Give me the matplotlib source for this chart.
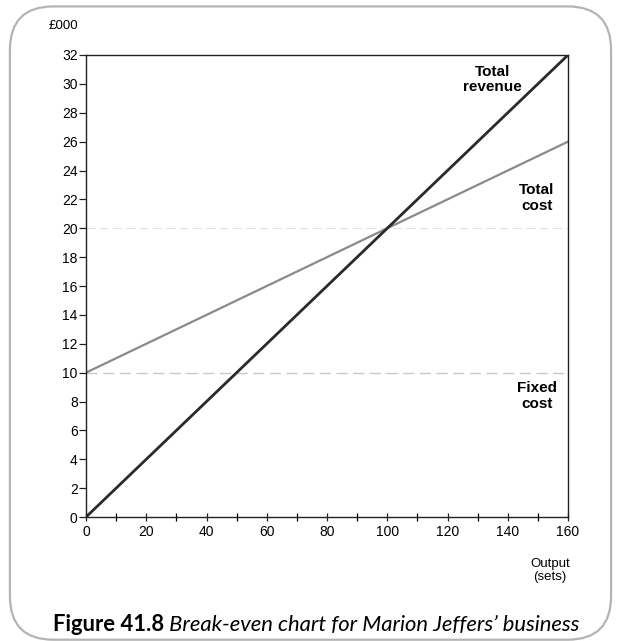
import matplotlib
matplotlib.use("Agg")
import matplotlib.pyplot as plt
from matplotlib.patches import FancyBboxPatch

output = [0, 160]
total_revenue = [0, 32]
total_cost = [10, 26]
fixed_cost = [10, 10]
x_ticks = [0, 20, 40, 60, 80, 100, 120, 140, 160]
y_ticks = list(range(0, 33, 2))

plt.rcParams['font.family'] = ['Liberation Sans', 'DejaVu Sans']

fig = plt.figure(figsize=(6.21, 6.41), dpi=100)
frame = FancyBboxPatch((0.016, 0.002), 0.968, 0.988, boxstyle="round,pad=0,rounding_size=0.07",
                       transform=fig.transFigure, facecolor='white', edgecolor='#b4b4b4',
                       linewidth=1.6, mutation_aspect=621/641, zorder=-5)
fig.patches.append(frame)

ax = fig.add_axes([0.1385, 0.1934, 0.7762, 0.7208])
ax.set_zorder(3)
ax.set_facecolor('none')
ax.plot(output, fixed_cost, color='#c8c8c8', linewidth=1.0, linestyle=(0, (8, 4)))
ax.plot(output, [20, 20], color='#e2e2e2', linewidth=0.8, linestyle=(0, (8, 4)))
ax.plot(output, total_cost, color='#8a8a8a', linewidth=1.6)
ax.plot(output, total_revenue, color='#2a2a2a', linewidth=2.0)

ax.set_xlim(0, 160)
ax.set_ylim(0, 32)
ax.set_xticks(x_ticks)
ax.set_xticks(range(0, 161, 10), minor=True)
ax.set_yticks(y_ticks)
ax.tick_params(axis='both', labelsize=10, color='#222222', length=5, width=0.9)
ax.tick_params(axis='x', which='both', direction='inout', length=6, width=0.9, pad=3)
ax.tick_params(axis='y', pad=1, length=5)
for s in ax.spines.values():
    s.set_color('#222222')
    s.set_linewidth(1.0)

ax.text(-0.078, 1.063, '£000', transform=ax.transAxes, fontsize=9.5, ha='left', va='center')
ax.text(135, 30.3, 'Total\nrevenue', fontsize=11, fontweight='bold', ha='center', va='center', linespacing=1.15)
ax.text(149.7, 22.1, 'Total\ncost', fontsize=11, fontweight='bold', ha='center', va='center', linespacing=1.15)
ax.text(149.7, 8.4, 'Fixed\ncost', fontsize=11, fontweight='bold', ha='center', va='center', linespacing=1.15)
ax.text(154, -3.7, 'Output\n(sets)', fontsize=9.5, ha='center', va='center', linespacing=1.05)

t1 = fig.text(0.085, 0.016, 'Figure 41.8', fontsize=15.8, fontweight='bold', family=['Lato', 'DejaVu Sans'],
              ha='left', va='baseline')
t2 = fig.text(0, 0.016, ' Break-even chart for Marion Jeffers\u2019 business', fontsize=15.8, style='italic',
              family=['Lato', 'DejaVu Sans'], ha='left', va='baseline')
fig.canvas.draw()
bb = t1.get_window_extent()
t2.set_position((bb.x1 / fig.bbox.width, 0.016))

fig.savefig('out.png', dpi=100)
